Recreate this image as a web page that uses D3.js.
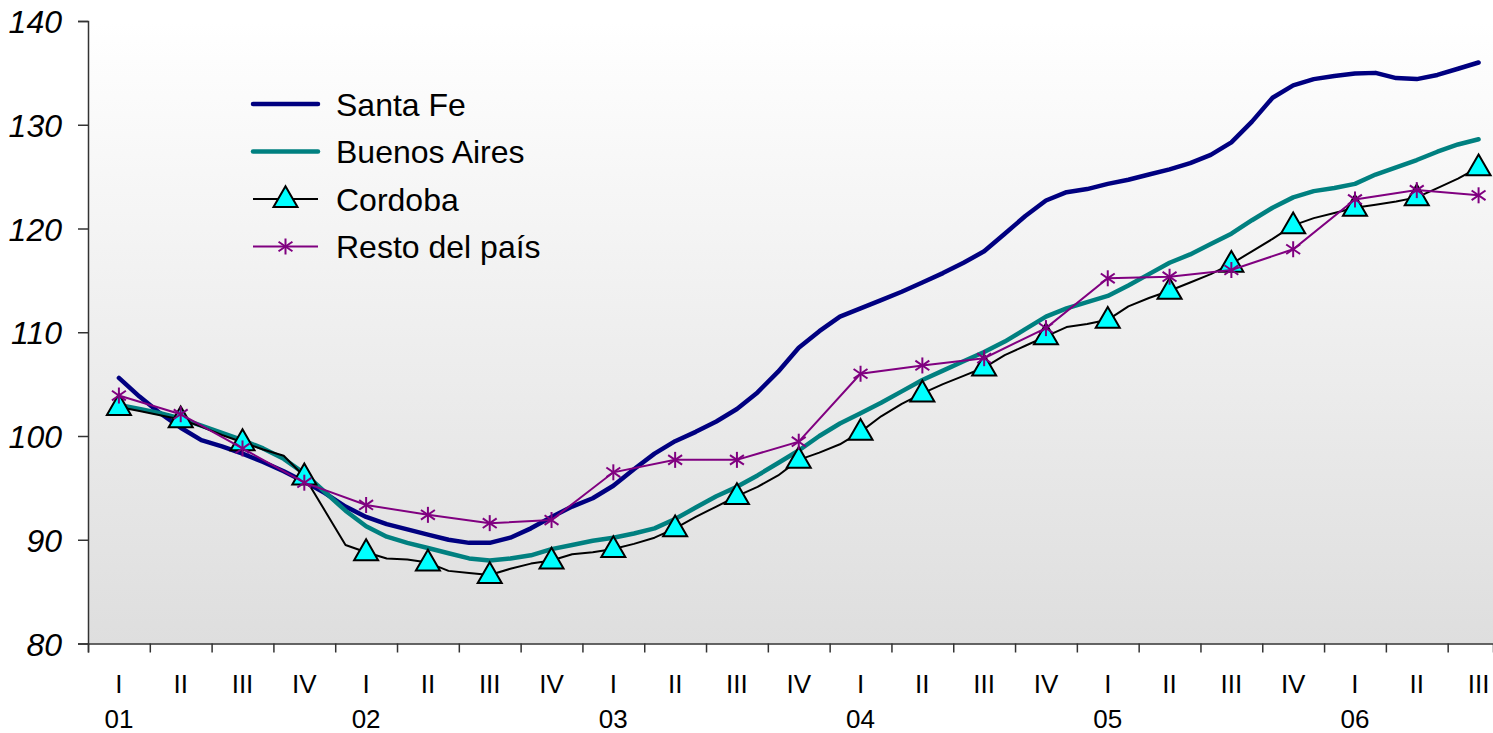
<!DOCTYPE html>
<html>
<head>
<meta charset="utf-8">
<script src="https://cdn.jsdelivr.net/npm/d3@7"></script>
<style>
  html, body { margin: 0; padding: 0; background: #ffffff; }
  svg { display: block; font-family: "Liberation Sans", Arial, sans-serif; }
</style>
</head>
<body>
<svg id="chart" width="1493" height="733"></svg>
<script>
// ---------------- DATA ----------------
// Monthly category positions: month index 1..67 (Feb 2001 .. Aug 2006), axis spans Jan 2001 .. Aug 2006
const monthIndex = d3.range(1, 68);

const quarterLabels = ["I","II","III","IV","I","II","III","IV","I","II","III","IV",
                       "I","II","III","IV","I","II","III","IV","I","II","III"];
const yearLabels = ["01","","","","02","","","","03","","","","04","","","","05","","","","06","",""];

const santaFe = [105.6,103.8,102.2,100.8,99.6,99.0,98.3,97.5,96.6,95.6,94.5,93.2,
  92.2,91.5,91.0,90.5,90.0,89.7,89.7,90.2,91.1,92.2,93.2,94.0,
  95.2,96.8,98.3,99.5,100.4,101.4,102.6,104.2,106.2,108.5,110.1,111.5,
  112.3,113.1,113.9,114.8,115.7,116.7,117.8,119.5,121.2,122.7,123.5,123.8,
  124.3,124.7,125.2,125.7,126.3,127.1,128.3,130.3,132.6,133.8,134.4,134.7,
  134.95,135.0,134.5,134.4,134.8,135.4,136.0];

const buenosAires = [103.0,102.6,102.2,101.7,101.0,100.3,99.6,98.8,97.8,96.4,94.6,92.8,
  91.3,90.3,89.7,89.2,88.7,88.2,88.0,88.2,88.5,89.1,89.5,89.9,
  90.2,90.6,91.1,92.0,93.1,94.2,95.1,96.2,97.4,98.6,100.0,101.2,
  102.2,103.2,104.3,105.4,106.3,107.2,108.1,109.1,110.3,111.5,112.3,112.9,
  113.5,114.5,115.6,116.7,117.5,118.5,119.5,120.8,122.0,123.0,123.6,123.9,
  124.3,125.2,125.9,126.6,127.4,128.1,128.6];

const cordoba = [102.8,102.4,102.0,101.6,100.9,100.1,99.4,98.7,98.1,96.1,92.8,89.5,
  88.8,88.2,88.1,87.8,87.0,86.8,86.6,87.2,87.7,88.0,88.6,88.8,
  89.1,89.6,90.2,91.1,92.2,93.2,94.2,95.1,96.2,97.7,98.4,99.2,
  100.4,101.9,103.1,104.1,105.0,105.8,106.6,107.8,108.7,109.6,110.5,110.8,
  111.2,112.5,113.3,114.0,114.8,115.6,116.6,117.8,119.0,120.3,121.0,121.5,
  122.0,122.3,122.6,123.0,123.9,124.8,125.9];

// quarterly (middle month of each quarter)
const restoPais = [103.9,102.1,98.8,95.5,93.35,92.4,91.6,91.9,96.5,97.7,97.7,99.45,
  106.0,106.8,107.5,110.4,115.2,115.35,116.0,118.0,122.8,123.7,123.2];

const seriesNames = ["Santa Fe","Buenos Aires","Cordoba","Resto del país"];
const yTicks = [80,90,100,110,120,130,140];

// ---------------- LAYOUT ----------------
const svg = d3.select("#chart");
const plotL = 88, plotR = 1493, plotT = 21, plotB = 643.5;
const monthsSpan = 68.2;

const x = d3.scaleLinear().domain([0, monthsSpan]).range([plotL, plotR]);
const y = d3.scaleLinear().domain([80, 140]).range([plotB, plotT]);
const monthX = i => x(i + 0.5);
const quarterMonth = k => 3 * k + 1;

// background gradient
const defs = svg.append("defs");
const grad = defs.append("linearGradient").attr("id", "bg")
  .attr("x1", 0).attr("y1", 0).attr("x2", 0).attr("y2", 1);
grad.append("stop").attr("offset", "0%").attr("stop-color", "#ffffff");
grad.append("stop").attr("offset", "100%").attr("stop-color", "#dedede");

svg.append("rect")
  .attr("x", plotL).attr("y", plotT)
  .attr("width", plotR - plotL).attr("height", plotB - plotT)
  .attr("fill", "url(#bg)");

// Y axis
const yAxis = d3.axisLeft(y).tickValues(yTicks).tickSize(10).tickPadding(16)
  .tickFormat(d3.format("d"));
const gy = svg.append("g").attr("transform", `translate(${plotL},0)`).call(yAxis);
gy.select(".domain").attr("stroke", "#333").attr("stroke-width", 1.5);
gy.selectAll(".tick line").attr("stroke", "#333").attr("stroke-width", 1.5);
gy.selectAll(".tick text")
  .attr("font-size", 32).attr("font-style", "italic")
  .attr("font-family", "Liberation Sans, Arial, sans-serif")
  .attr("fill", "#000").attr("dy", "0.36em");

// X axis: ticks at quarter boundaries (every 3 months)
const quarterBounds = d3.range(0, 67, 3);
const xAxis = d3.axisBottom(x).tickValues(quarterBounds).tickSize(9).tickFormat("");
const gx = svg.append("g").attr("transform", `translate(0,${plotB})`).call(xAxis);
gx.select(".domain").attr("stroke", "#333").attr("stroke-width", 1.5);
gx.selectAll(".tick line").attr("stroke", "#333").attr("stroke-width", 1.5);

// quarter and year labels
const qg = svg.append("g").attr("font-size", 26).attr("fill", "#000").attr("text-anchor", "middle");
qg.selectAll("text.q").data(quarterLabels).join("text").attr("class", "q")
  .attr("x", (d, k) => monthX(quarterMonth(k))).attr("y", 693).text(d => d);
qg.selectAll("text.yr").data(yearLabels).join("text").attr("class", "yr")
  .attr("x", (d, k) => monthX(quarterMonth(k))).attr("y", 728).text(d => d);

// ---------------- LINES ----------------
const line = d3.line().x(d => monthX(d[0])).y(d => y(d[1]));
const zipM = arr => arr.map((v, i) => [monthIndex[i], v]);
const zipQ = arr => arr.map((v, k) => [quarterMonth(k), v]);

svg.append("path").datum(zipM(santaFe)).attr("d", line)
  .attr("fill", "none").attr("stroke", "#000080").attr("stroke-width", 4.5)
  .attr("stroke-linejoin", "round").attr("stroke-linecap", "round");
svg.append("path").datum(zipM(buenosAires)).attr("d", line)
  .attr("fill", "none").attr("stroke", "#008080").attr("stroke-width", 4.5)
  .attr("stroke-linejoin", "round").attr("stroke-linecap", "round");
svg.append("path").datum(zipM(cordoba)).attr("d", line)
  .attr("fill", "none").attr("stroke", "#000").attr("stroke-width", 2)
  .attr("stroke-linejoin", "round");

const tri = d3.symbol().type(d3.symbolTriangle).size(250);
const cordobaQ = quarterLabels.map((q, k) => [quarterMonth(k), cordoba[quarterMonth(k) - 1]]);
svg.append("g").selectAll("path").data(cordobaQ).join("path")
  .attr("d", tri)
  .attr("transform", d => `translate(${monthX(d[0])},${y(d[1]) + 1})`)
  .attr("fill", "#00ffff").attr("stroke", "#000").attr("stroke-width", 2)
  .attr("stroke-linejoin", "miter");

svg.append("path").datum(zipQ(restoPais)).attr("d", line)
  .attr("fill", "none").attr("stroke", "#800080").attr("stroke-width", 2);

function star(g, cx, cy, r, color) {
  const s = g.append("g").attr("transform", `translate(${cx},${cy})`)
    .attr("stroke", color).attr("stroke-width", 2);
  s.append("line").attr("x1", 0).attr("y1", -r).attr("x2", 0).attr("y2", r);
  s.append("line").attr("x1", -r * 0.87).attr("y1", -r * 0.6).attr("x2", r * 0.87).attr("y2", r * 0.6);
  s.append("line").attr("x1", -r * 0.87).attr("y1", r * 0.6).attr("x2", r * 0.87).attr("y2", -r * 0.6);
}
const starG = svg.append("g");
zipQ(restoPais).forEach(d => star(starG, monthX(d[0]), y(d[1]), 8, "#800080"));

// ---------------- LEGEND ----------------
const legX1 = 253, legX2 = 318, legText = 336;
const legY = [104, 151.5, 199, 246.5];
const leg = svg.append("g").attr("font-size", 32).attr("fill", "#000");
const legStyles = [
  {c: "#000080", w: 4.5}, {c: "#008080", w: 4.5}, {c: "#000", w: 2}, {c: "#800080", w: 2}
];
seriesNames.forEach((name, i) => {
  leg.append("line").attr("x1", legX1).attr("x2", legX2)
    .attr("y1", legY[i]).attr("y2", legY[i])
    .attr("stroke", legStyles[i].c).attr("stroke-width", legStyles[i].w)
    .attr("stroke-linecap", i < 2 ? "round" : "butt");
  leg.append("text").attr("x", legText).attr("y", legY[i] + 11.5).text(name);
});
leg.append("path").attr("d", tri)
  .attr("transform", `translate(${(legX1 + legX2) / 2},${legY[2] + 1})`)
  .attr("fill", "#00ffff").attr("stroke", "#000").attr("stroke-width", 2);
star(leg, (legX1 + legX2) / 2, legY[3], 8, "#800080");
</script>
</body>
</html>
